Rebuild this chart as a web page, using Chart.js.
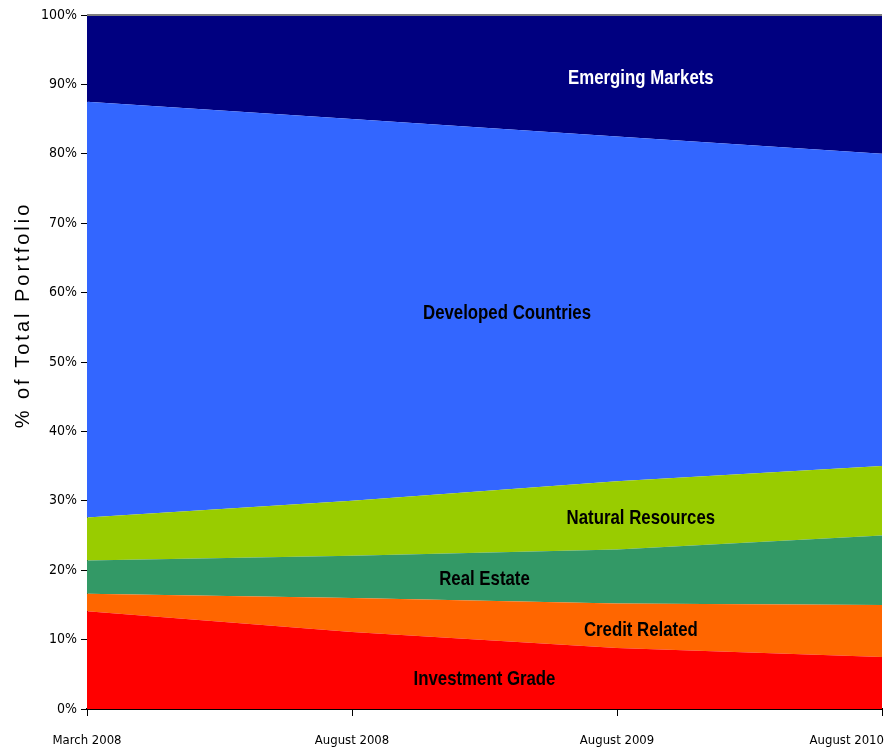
<!DOCTYPE html>
<html>
<head>
<meta charset="utf-8">
<script src="https://cdn.jsdelivr.net/npm/chart.js@4"></script>
<style>
  html, body { margin: 0; padding: 0; background: #fff; }
  #wrap { width: 891px; height: 748px; }
</style>
</head>
<body>
<div id="wrap"><canvas id="portfolio-chart"></canvas></div>
<script>
// categories and series (percent of total portfolio)
const periods = ['March 2008', 'August 2008', 'August 2009', 'August 2010'];
const investmentGrade = [14.1, 11.1, 8.8, 7.5];
const creditRelated = [2.5, 4.9, 6.4, 7.5];
const realEstate = [4.8, 6.1, 7.8, 10];
const naturalResources = [6.2, 7.9, 9.8, 10];
const developedCountries = [59.9, 55, 49.7, 45];
const emergingMarkets = [12.5, 15, 17.5, 20];
const yTicks = [0, 10, 20, 30, 40, 50, 60, 70, 80, 90, 100];

const narrow = '"DejaVu Sans Condensed", "Liberation Sans Narrow", "Liberation Sans", Arial, sans-serif';

function area(label, data, color, fill) {
    return {
        label: label,
        data: data,
        backgroundColor: color,
        borderColor: color,
        borderWidth: 0,
        pointRadius: 0,
        fill: fill,
        tension: 0
    };
}

// text labels drawn inside the bands, anchored in data coordinates
const bandLabels = [
    { text: 'Emerging Markets', x: 2.09, y: 90.9, color: '#fff' },
    { text: 'Developed Countries', x: 1.585, y: 57, color: '#000' },
    { text: 'Natural Resources', x: 2.09, y: 27.5, color: '#000' },
    { text: 'Real Estate', x: 1.5, y: 18.7, color: '#000' },
    { text: 'Credit Related', x: 2.09, y: 11.3, color: '#000' },
    { text: 'Investment Grade', x: 1.5, y: 4.3, color: '#000' }
];

const decorations = {
    id: 'decorations',
    afterUpdate(chart) {
        // keep the last x label inside the canvas: right-align it on its tick
        const xs = chart.scales.x;
        const items = xs.getLabelItems();
        const last = items[items.length - 1];
        if (last) {
            last.options.textAlign = 'right';
            last.options.translation[0] = xs.right + 2;
        }
    },
    afterDatasetsDraw(chart) {
        const { ctx, chartArea, scales } = chart;
        ctx.save();
        // band labels, squeezed to look like a narrow bold face
        ctx.font = 'bold 21px "Liberation Sans", Arial, sans-serif';
        ctx.textAlign = 'center';
        ctx.textBaseline = 'middle';
        bandLabels.forEach(l => {
            ctx.save();
            ctx.translate(scales.x.getPixelForValue(l.x), scales.y.getPixelForValue(l.y));
            ctx.scale(0.8, 1);
            ctx.fillStyle = l.color;
            ctx.fillText(l.text, 0, 0);
            ctx.restore();
        });
        // grey top edge
        ctx.strokeStyle = '#7f7f7f';
        ctx.lineWidth = 2;
        ctx.beginPath();
        ctx.moveTo(chartArea.left, chartArea.top);
        ctx.lineTo(chartArea.right, chartArea.top);
        ctx.stroke();
        // y axis title with wide letter spacing
        ctx.translate(23, 315);
        ctx.rotate(-Math.PI / 2);
        ctx.font = '20px "Liberation Sans", Arial, sans-serif';
        ctx.letterSpacing = '3px';
        ctx.fillStyle = '#000';
        ctx.fillText('% of Total Portfolio', 0, 0);
        ctx.restore();
    }
};

new Chart(document.getElementById('portfolio-chart'), {
    type: 'line',
    data: {
        labels: periods,
        datasets: [
            area('Investment Grade', investmentGrade, '#ff0000', 'origin'),
            area('Credit Related', creditRelated, '#ff6600', '-1'),
            area('Real Estate', realEstate, '#339966', '-1'),
            area('Natural Resources', naturalResources, '#99cc00', '-1'),
            area('Developed Countries', developedCountries, '#3366ff', '-1'),
            area('Emerging Markets', emergingMarkets, '#000080', '-1')
        ]
    },
    options: {
        responsive: true,
        maintainAspectRatio: false,
        animation: false,
        layout: { padding: { top: 15, right: 9, left: 0, bottom: 0 } },
        plugins: {
            legend: { display: false },
            tooltip: { enabled: false },
            filler: { propagate: false }
        },
        scales: {
            x: {
                type: 'category',
                offset: false,
                border: { color: '#000', width: 2 },
                grid: { drawOnChartArea: false, drawTicks: true, tickLength: 7, color: '#000' },
                ticks: {
                    color: '#000',
                    font: { family: narrow, size: 13 },
                    maxRotation: 0,
                    autoSkip: false,
                    padding: 17
                },
                afterFit(scale) {
                    scale.height = 39;
                    scale.paddingLeft = 0;
                    scale.paddingRight = 0;
                }
            },
            y: {
                stacked: true,
                min: 0,
                max: 100,
                border: { color: '#000', width: 1 },
                grid: { drawOnChartArea: false, drawTicks: true, tickLength: 6, color: '#000' },
                afterBuildTicks(scale) { scale.ticks = yTicks.map(v => ({ value: v })); },
                ticks: {
                    color: '#000',
                    font: { family: narrow, size: 14 },
                    padding: 4,
                    callback: v => v + '%'
                },
                afterFit(scale) { scale.width = 87; }
            }
        }
    },
    plugins: [decorations]
});
</script>
</body>
</html>
